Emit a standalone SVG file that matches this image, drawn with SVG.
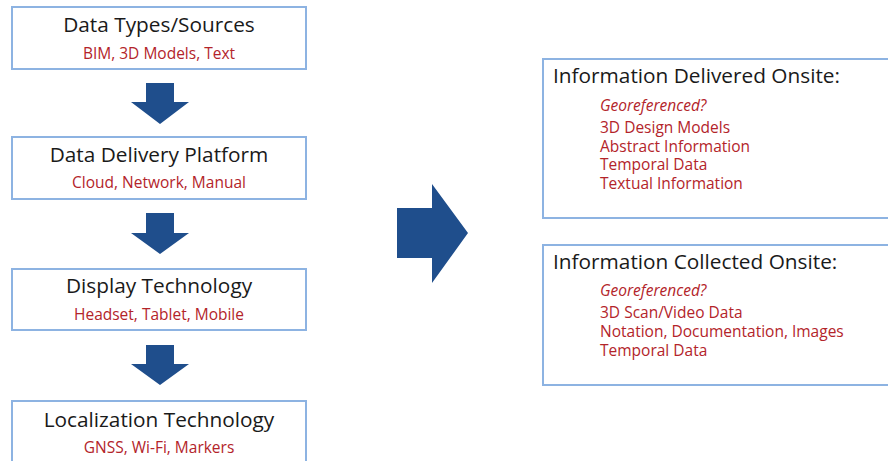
<svg xmlns="http://www.w3.org/2000/svg" width="888" height="461" viewBox="0 0 888 461">
<style>
.box{fill:#fff;stroke:#8db3e2;stroke-width:2}
.t{font-family:"Open Sans","Liberation Sans",sans-serif;font-size:20.8px;fill:#1a1a1a}
.s{font-family:"Open Sans","Liberation Sans",sans-serif;font-size:15.5px;fill:#b3242a}
.i{font-style:italic}
.arr{fill:#1f4e8c}
</style>
<rect width="888" height="461" fill="#fff"/>
<g id="n1"><rect class="box" x="12" y="7" width="294" height="62"/><text class="t" x="159" y="32" text-anchor="middle">Data Types/Sources</text><text class="s" x="159" y="59" text-anchor="middle">BIM, 3D Models, Text</text></g>
<g id="n2"><rect class="box" x="12" y="137" width="294" height="62"/><text class="t" x="159" y="162" text-anchor="middle">Data Delivery Platform</text><text class="s" x="159" y="188" text-anchor="middle">Cloud, Network, Manual</text></g>
<g id="n3"><rect class="box" x="12" y="269" width="294" height="61"/><text class="t" x="159" y="293" text-anchor="middle">Display Technology</text><text class="s" x="159" y="320" text-anchor="middle">Headset, Tablet, Mobile</text></g>
<g id="n4"><rect class="box" x="12" y="401" width="294" height="70"/><text class="t" x="159" y="427" text-anchor="middle">Localization Technology</text><text class="s" x="159" y="453" text-anchor="middle">GNSS, Wi-Fi, Markers</text></g>
<g id="n5"><rect class="box" x="543" y="59" width="360" height="159"/><text class="t" x="553" y="83">Information Delivered Onsite:</text>
<text class="s i" x="600" y="111">Georeferenced?</text>
<text class="s" x="600" y="133">3D Design Models</text>
<text class="s" x="600" y="152">Abstract Information</text>
<text class="s" x="600" y="170">Temporal Data</text>
<text class="s" x="600" y="189">Textual Information</text></g>
<g id="n6"><rect class="box" x="543" y="245" width="360" height="140"/><text class="t" x="553" y="269">Information Collected Onsite:</text>
<text class="s i" x="600" y="296">Georeferenced?</text>
<text class="s" x="600" y="318">3D Scan/Video Data</text>
<text class="s" x="600" y="337">Notation, Documentation, Images</text>
<text class="s" x="600" y="356">Temporal Data</text></g>
<g id="connectors">
<polygon class="arr" points="146,83 174,83 174,102 189,102 160,124 131,102 146,102"/>
<polygon class="arr" points="146,213 174,213 174,233 189,233 160,254 131,233 146,233"/>
<polygon class="arr" points="146,345 174,345 174,364 189,364 160,385 131,364 146,364"/>
<polygon class="arr" points="397,208 432,208 432,184 468,233 432,283 432,258 397,258"/>
</g>
</svg>
